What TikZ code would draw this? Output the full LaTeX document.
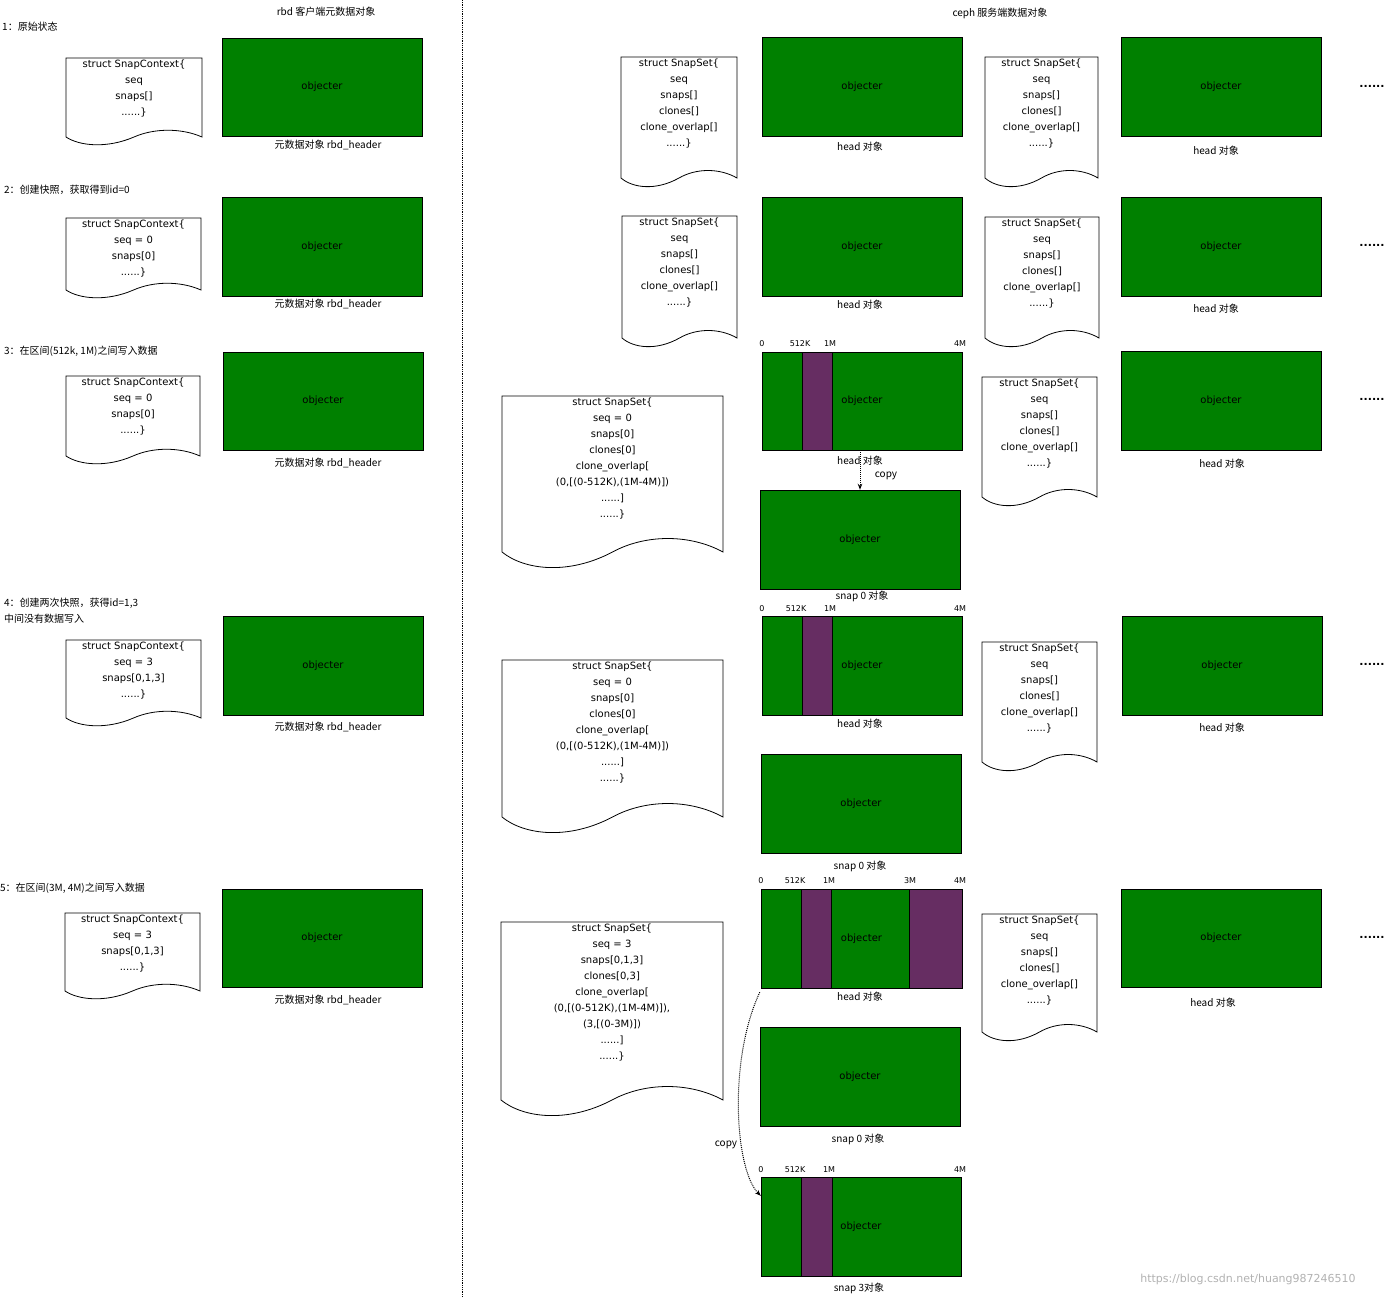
\documentclass[tikz,border=0pt]{standalone}
\usepackage{fontspec}
\setmainfont{DejaVu Sans}
\newfontfamily\cjk{Noto Sans CJK SC}
\usetikzlibrary{arrows.meta}
\definecolor{objgreen}{HTML}{008000}
\definecolor{purp}{HTML}{662D62}
\tikzset{
  docline/.style={draw=black,fill=white,line width=0.8pt},
  doctext/.style={anchor=north,align=center,inner sep=2pt,font=\fontsize{10}{16}\selectfont},
  obj/.style={draw=black,fill=objgreen,inner sep=0pt,font=\fontsize{10}{12}\selectfont},
  lbl/.style={font=\cjk\fontsize{10}{12}\selectfont,inner sep=0pt},
  stepl/.style={font=\cjk\fontsize{10}{16}\selectfont,anchor=west,align=left,inner sep=0pt},
  tick/.style={font=\fontsize{8}{10}\selectfont,inner sep=0pt},
  dots/.style={font=\bfseries\fontsize{11}{12}\selectfont,inner sep=0pt},
  strip/.style={draw=black,fill=purp},
  cp/.style={densely dotted,line width=1pt,-{Stealth[length=6pt]}}
}
\newcommand\docu[7]{%
  \pgfmathsetmacro\dw{#4-#2}%
  \draw[docline] (#2,#3) -- (#4,#3) -- (#4,#5) .. controls ({#4-0.15*\dw},{#5-#6}) and ({#4-0.35*\dw},{#5-#6}) .. ({#2+0.5*\dw},#5) .. controls ({#2+0.3*\dw},{#5+1.3*#6}) and ({#2+0.1*\dw},{#5+#6}) .. (#2,#5) -- cycle;
  \node[doctext] (#1) at ({(#2+#4)/2},#3) {#7};}
\newcommand\objbox[5]{%
  \node[obj,minimum width={(#4-#2)*1pt},minimum height={(#5-#3)*1pt}] (#1) at ({(#2+#4)/2},{(#3+#5)/2}) {};}
\newcommand\objtext[1]{\node[font=\fontsize{10}{12}\selectfont] at (#1) {objecter};}
\newcommand\ssa{struct SnapSet\{\\seq\\snaps[]\\clones[]\\clone\_overlap[]\\......\}}
\newcommand\scx[2]{struct SnapContext\{\\seq#1\\snaps#2\\......\}}
\begin{document}
\begin{tikzpicture}[x=1pt,y=-1pt]
\useasboundingbox[fill=white] (0,0) rectangle (1390,1298);
\draw[densely dotted,line width=0.8pt] (462,0) coordinate (dt) -- (462,1298) coordinate (db);
\node[lbl] (h1) at (326,12) {rbd 客户端元数据对象};
\node[lbl] (h2) at (1000,13) {ceph 服务端数据对象};
% steps
\node[stepl] (s1) at (2,27) {1：原始状态};
\node[stepl] (s2) at (4,190) {2：创建快照，获取得到id=0};
\node[stepl] (s3) at (4,351) {3：在区间(512k, 1M)之间写入数据};
\node[stepl] (s4) at (4,611) {4：创建两次快照，获得id=1,3\\中间没有数据写入};
\node[stepl] (s5) at (0,888) {5：在区间(3M, 4M)之间写入数据};
% left docs
\docu{c1}{66}{58}{202}{137}{9}{\scx{}{[]}}
\docu{c2}{66}{218}{201}{290}{9}{\scx{ = 0}{[0]}}
\docu{c3}{66}{376}{200}{456}{9}{\scx{ = 0}{[0]}}
\docu{c4}{66}{640}{201}{718}{9}{\scx{ = 3}{[0,1,3]}}
\docu{c5}{65}{913}{200}{991}{9}{\scx{ = 3}{[0,1,3]}}
% left boxes
\objbox{r1}{222}{38}{422}{136}\objtext{r1}
\objbox{r2}{222}{197}{422}{296}\objtext{r2}
\objbox{r3}{223}{352}{423}{450}\objtext{r3}
\objbox{r4}{223}{616}{423}{715}\objtext{r4}
\objbox{r5}{222}{889}{422}{987}\objtext{r5}
\node[lbl] (rl1) at (328,145) {元数据对象 rbd\_header};
\node[lbl] (rl2) at (328,304) {元数据对象 rbd\_header};
\node[lbl] (rl3) at (328,463) {元数据对象 rbd\_header};
\node[lbl] (rl4) at (328,727) {元数据对象 rbd\_header};
\node[lbl] (rl5) at (328,1000) {元数据对象 rbd\_header};
% row 1
\docu{d1a}{621}{57}{737}{178}{10}{\ssa}
\objbox{g1a}{762}{37}{962}{136}\objtext{g1a}
\node[lbl] (l1a) at (860,147) {head 对象};
\docu{d1b}{985}{57}{1098}{178}{10}{\ssa}
\objbox{g1b}{1121}{37}{1321}{136}\objtext{g1b}
\node[lbl] (l1b) at (1216,151) {head 对象};
\node[dots] (p1) at (1372,86) {......};
% row 2
\docu{d2a}{622}{216}{737}{338}{10}{\ssa}
\objbox{g2a}{762}{197}{962}{296}\objtext{g2a}
\node[lbl] (l2a) at (860,305) {head 对象};
\docu{d2b}{985}{217}{1099}{338}{10}{\ssa}
\objbox{g2b}{1121}{197}{1321}{296}\objtext{g2b}
\node[lbl] (l2b) at (1216,309) {head 对象};
\node[dots] (p2) at (1372,245) {......};
% row 3
\docu{b3}{502}{396}{723}{552}{18}{struct SnapSet\{\\seq = 0\\snaps[0]\\clones[0]\\clone\_overlap[\\(0,[(0-512K),(1M-4M)])\\......]\\......\}}
\objbox{h3}{762}{352}{962}{450}
\draw[strip] (802,352) rectangle (832,450);
\objtext{h3}
\node[tick] (t3a) at (762,344) {0};
\node[tick] (t3b) at (800,344) {512K};
\node[tick] (t3c) at (830,344) {1M};
\node[tick] (t3d) at (960,344) {4M};
\node[lbl] (l3h) at (860,461) {head 对象};
\objbox{n3}{760}{490}{960}{589}\objtext{n3}
\node[lbl] (l3n) at (862,596) {snap 0 对象};
\draw[cp] ([xshift=-2pt]h3.south) -- ([xshift=0pt]n3.north);
\node[lbl] (cp3) at (886,476) {copy};
\docu{d3b}{982}{377}{1097}{497}{10}{\ssa}
\objbox{g3b}{1121}{351}{1321}{450}\objtext{g3b}
\node[lbl] (l3b) at (1222,464) {head 对象};
\node[dots] (p3) at (1372,399) {......};
% row 4
\docu{b4}{502}{660}{723}{817}{18}{struct SnapSet\{\\seq = 0\\snaps[0]\\clones[0]\\clone\_overlap[\\(0,[(0-512K),(1M-4M)])\\......]\\......\}}
\objbox{h4}{762}{616}{962}{715}
\draw[strip] (802,616) rectangle (832,715);
\objtext{h4}
\node[tick] (t4a) at (762,609) {0};
\node[tick] (t4b) at (796,609) {512K};
\node[tick] (t4c) at (830,609) {1M};
\node[tick] (t4d) at (960,609) {4M};
\node[lbl] (l4h) at (860,724) {head 对象};
\objbox{n4}{761}{754}{961}{853}\objtext{n4}
\node[lbl] (l4n) at (860,866) {snap 0 对象};
\docu{d4b}{982}{642}{1097}{762}{10}{\ssa}
\objbox{g4b}{1122}{616}{1322}{715}\objtext{g4b}
\node[lbl] (l4b) at (1222,728) {head 对象};
\node[dots] (p4) at (1372,664) {......};
% row 5
\docu{b5}{501}{922}{723}{1100}{18}{struct SnapSet\{\\seq = 3\\snaps[0,1,3]\\clones[0,3]\\clone\_overlap[\\(0,[(0-512K),(1M-4M)]),\\(3,[(0-3M)])\\......]\\......\}}
\objbox{h5}{761}{889}{962}{988}
\draw[strip] (801,889) rectangle (831,988);
\draw[strip] (909,889) rectangle (962,988);
\objtext{h5}
\node[tick] (t5a) at (761,881) {0};
\node[tick] (t5b) at (795,881) {512K};
\node[tick] (t5c) at (829,881) {1M};
\node[tick] (t5d) at (910,881) {3M};
\node[tick] (t5e) at (960,881) {4M};
\node[lbl] (l5h) at (860,997) {head 对象};
\objbox{n5}{760}{1027}{960}{1126}\objtext{n5}
\node[lbl] (l5n) at (858,1139) {snap 0 对象};
\objbox{m5}{761}{1177}{961}{1276}
\draw[strip] (801,1177) rectangle (832,1276);
\objtext{m5}
\node[tick] (t6a) at (761,1170) {0};
\node[tick] (t6b) at (795,1170) {512K};
\node[tick] (t6c) at (829,1170) {1M};
\node[tick] (t6d) at (960,1170) {4M};
\node[lbl] (l5m) at (859,1288) {snap 3对象};
\coordinate (cs) at ([xshift=-1pt,yshift=-4pt]h5.south west);
\coordinate (ce) at ([yshift=-19pt]m5.north west);
\draw[cp] (cs) .. controls (728,1060) and (735,1170) .. (ce);
\node[lbl] (cp5) at (726,1145) {copy};
\docu{d5b}{982}{914}{1097}{1032}{10}{\ssa}
\objbox{g5b}{1121}{889}{1321}{987}\objtext{g5b}
\node[lbl] (l5b) at (1213,1003) {head 对象};
\node[dots] (p5) at (1372,937) {......};
\node[font=\fontsize{11}{12}\selectfont,text=gray!60,inner sep=0pt] (wm) at (1248,1279) {https://blog.csdn.net/huang987246510};
\end{tikzpicture}
\end{document}
